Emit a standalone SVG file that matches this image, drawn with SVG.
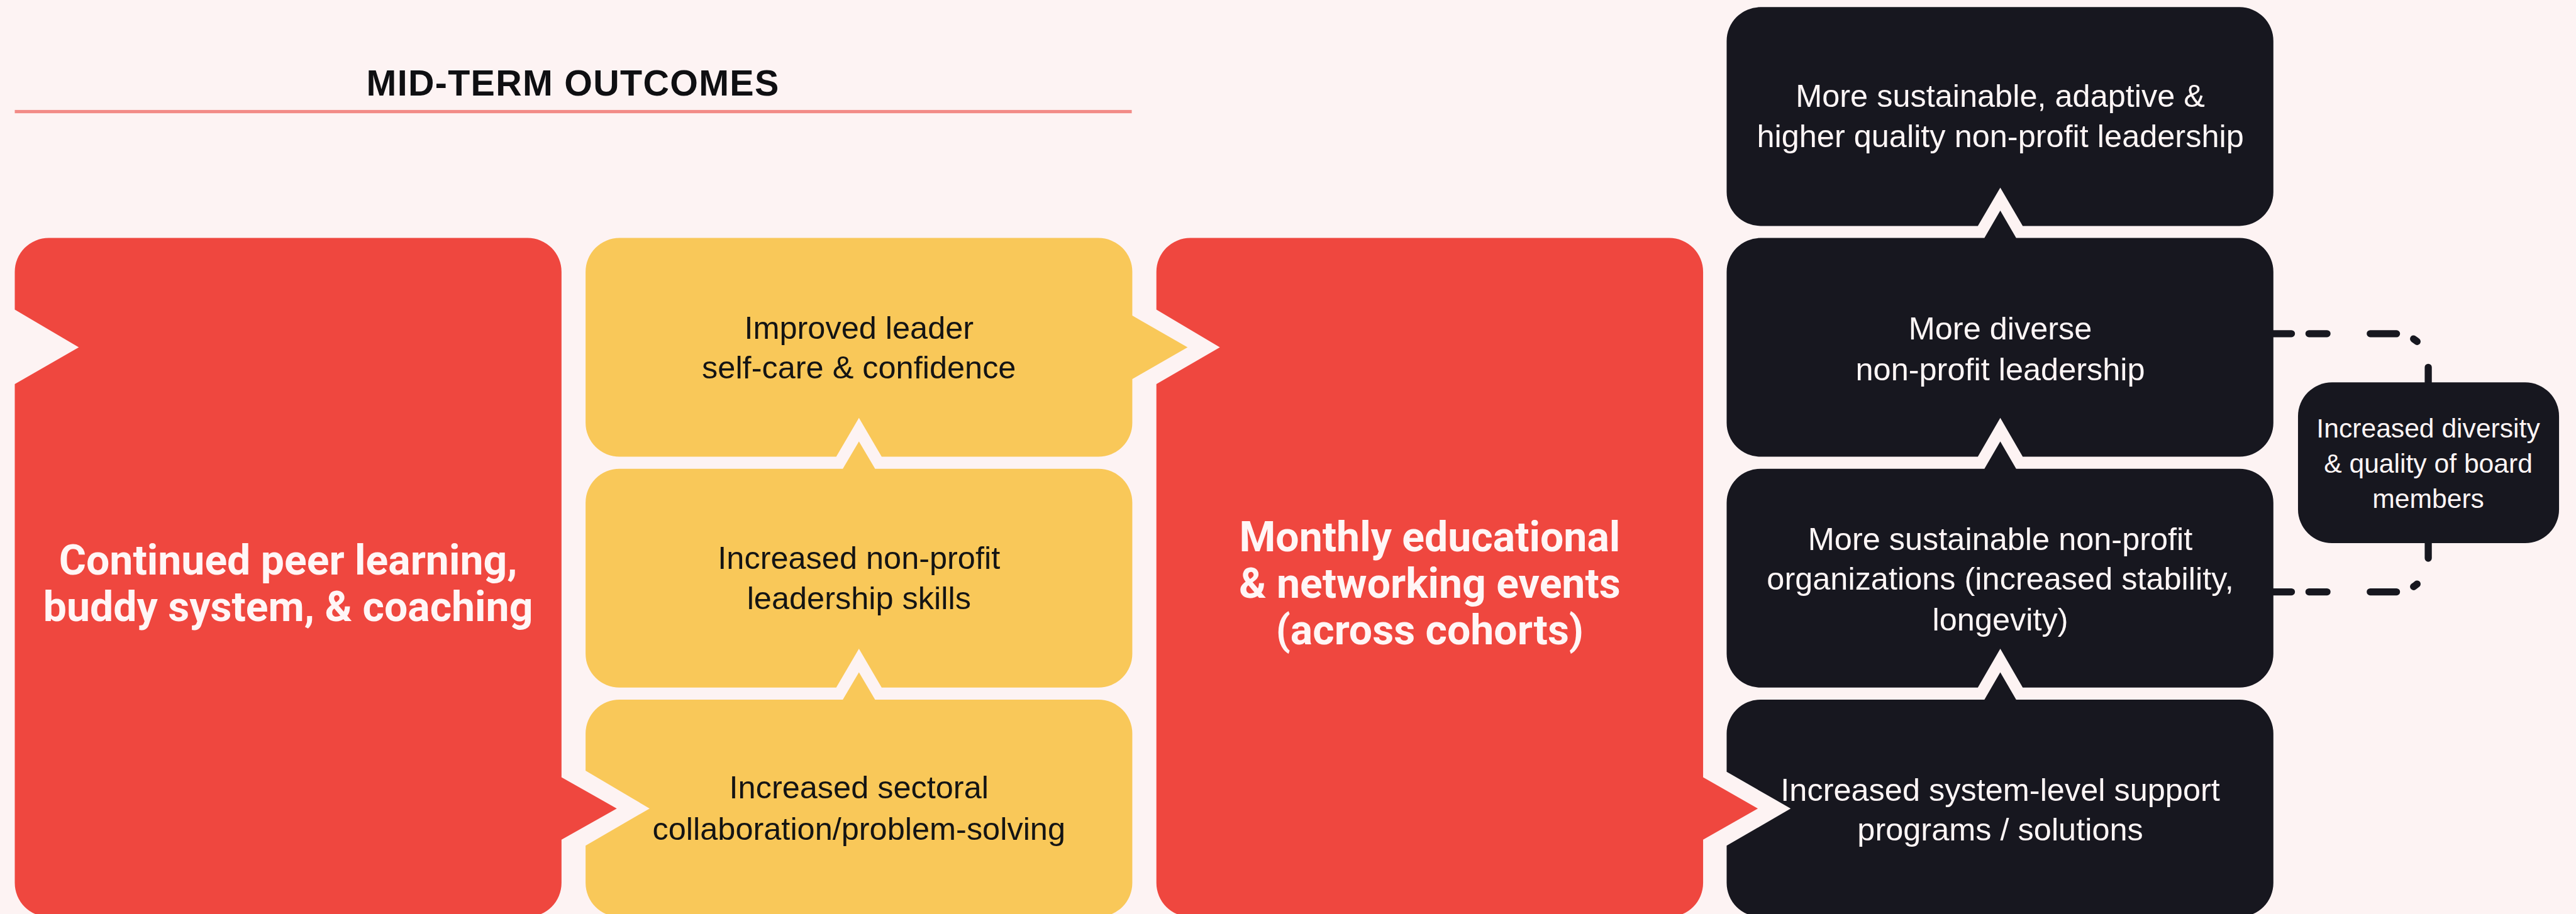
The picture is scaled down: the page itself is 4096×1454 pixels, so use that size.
<svg xmlns="http://www.w3.org/2000/svg" width="4096" height="1454" viewBox="0 0 4096 1454">
  <style>
    .bg { fill: #FDF3F3; }
    .red { fill: #EF473F; }
    .yel { fill: #F9C859; }
    .blk { fill: #17171F; }
    .rule { fill: #F28B87; }
    .title { font-family: "Liberation Sans", Arial, sans-serif; font-weight: 700; font-size: 66px; letter-spacing: 1.5px; fill: #0F0F12; text-anchor: middle; }
    .big { font-family: Roboto, "Noto Sans", sans-serif; font-weight: 700; font-size: 76px; fill: #FFF6F6; text-anchor: middle; }
    .dk { font-family: "Liberation Sans", Arial, sans-serif; font-size: 58px; fill: #141414; text-anchor: middle; }
    .lt { font-family: "Liberation Sans", Arial, sans-serif; font-size: 58px; fill: #FFF6F6; text-anchor: middle; }
    .sm { font-family: "Liberation Sans", Arial, sans-serif; font-size: 49px; fill: #FFF6F6; text-anchor: middle; }
    .dash { fill: none; stroke: #17171F; stroke-width: 13; stroke-linecap: round; stroke-dasharray: 33 32 33 79 48 33 8 53 60; }
  </style>
  <rect class="bg" x="0" y="0" width="4096" height="1454"/>
  <g transform="scale(0.8702)">
    <g id="header">
      <text class="title" x="1047" y="175">MID-TERM OUTCOMES</text>
      <rect class="rule" x="27" y="201" width="2041" height="6"/>
    </g>

    <g id="connectors">
      <path class="dash" d="M4154,610 H4378 A59,59 0 0 1 4437,669 V699"/>
      <path class="dash" d="M4154,1082 H4378 A59,59 0 0 0 4437,1023 V993"/>
    </g>

    <g id="peer-learning">
      <path class="red" d="M89,435 H964 A62,62 0 0 1 1026,497 V1421 L1127,1478 L1026,1535 V1614 A62,62 0 0 1 964,1676 H89 A62,62 0 0 1 27,1614 V702 L144,635 L27,566 V497 A62,62 0 0 1 89,435 Z"/>
      <text class="big" x="526.5" y="1050">Continued peer learning,</text>
      <text class="big" x="526.5" y="1135">buddy system, &amp; coaching</text>
    </g>

    <g id="self-care">
      <path class="yel" d="M1132,435 H2007 A62,62 0 0 1 2069,497 V577 L2170,635 L2069,693 V773 A62,62 0 0 1 2007,835 H1611 L1569.5,764 L1528,835 H1132 A62,62 0 0 1 1070,773 V497 A62,62 0 0 1 1132,435 Z"/>
      <text class="dk" x="1569.5" y="619">Improved leader</text>
      <text class="dk" x="1569.5" y="692">self-care &amp; confidence</text>
    </g>

    <g id="leadership-skills">
      <path class="yel" d="M1132,857 H1540 L1569.5,807 L1599,857 H2007 A62,62 0 0 1 2069,919 V1195 A62,62 0 0 1 2007,1257 H1611 L1569.5,1186 L1528,1257 H1132 A62,62 0 0 1 1070,1195 V919 A62,62 0 0 1 1132,857 Z"/>
      <text class="dk" x="1569.5" y="1040">Increased non-profit</text>
      <text class="dk" x="1569.5" y="1113">leadership skills</text>
    </g>

    <g id="sectoral-collaboration">
      <path class="yel" d="M1132,1279 H1540 L1569.5,1229 L1599,1279 H2007 A62,62 0 0 1 2069,1341 V1614 A62,62 0 0 1 2007,1676 H1132 A62,62 0 0 1 1070,1614 V1546 L1187,1478 L1070,1409 V1341 A62,62 0 0 1 1132,1279 Z"/>
      <text class="dk" x="1569.5" y="1460">Increased sectoral</text>
      <text class="dk" x="1569.5" y="1535">collaboration/problem-solving</text>
    </g>

    <g id="monthly-events">
      <path class="red" d="M2175,435 H3050 A62,62 0 0 1 3112,497 V1421 L3212,1478 L3112,1535 V1614 A62,62 0 0 1 3050,1676 H2175 A62,62 0 0 1 2113,1614 V702 L2229,635 L2113,566 V497 A62,62 0 0 1 2175,435 Z"/>
      <text class="big" x="2612.5" y="1008">Monthly educational</text>
      <text class="big" x="2612.5" y="1093">&amp; networking events</text>
      <text class="big" x="2612.5" y="1178">(across cohorts)</text>
    </g>

    <g id="leadership-quality">
      <path class="blk" d="M3217,13 H4092 A62,62 0 0 1 4154,75 V351 A62,62 0 0 1 4092,413 H3696 L3655,343 L3614,413 H3217 A62,62 0 0 1 3155,351 V75 A62,62 0 0 1 3217,13 Z"/>
      <text class="lt" x="3655" y="195">More sustainable, adaptive &amp;</text>
      <text class="lt" x="3655" y="269">higher quality non-profit leadership</text>
    </g>

    <g id="diverse-leadership">
      <path class="blk" d="M3217,435 H3626 L3655,385 L3684,435 H4092 A62,62 0 0 1 4154,497 V773 A62,62 0 0 1 4092,835 H3696 L3655,764 L3614,835 H3217 A62,62 0 0 1 3155,773 V497 A62,62 0 0 1 3217,435 Z"/>
      <text class="lt" x="3655" y="621">More diverse</text>
      <text class="lt" x="3655" y="695">non-profit leadership</text>
    </g>

    <g id="sustainable-orgs">
      <path class="blk" d="M3217,857 H3626 L3655,807 L3684,857 H4092 A62,62 0 0 1 4154,919 V1195 A62,62 0 0 1 4092,1257 H3696 L3655,1186 L3614,1257 H3217 A62,62 0 0 1 3155,1195 V919 A62,62 0 0 1 3217,857 Z"/>
      <text class="lt" x="3655" y="1006">More sustainable non-profit</text>
      <text class="lt" x="3655" y="1078">organizations (increased stability,</text>
      <text class="lt" x="3655" y="1153">longevity)</text>
    </g>

    <g id="system-support">
      <path class="blk" d="M3217,1279 H3626 L3655,1229 L3684,1279 H4092 A62,62 0 0 1 4154,1341 V1614 A62,62 0 0 1 4092,1676 H3217 A62,62 0 0 1 3155,1614 V1546 L3272,1478 L3155,1411 V1341 A62,62 0 0 1 3217,1279 Z"/>
      <text class="lt" x="3655" y="1464">Increased system-level support</text>
      <text class="lt" x="3655" y="1536">programs / solutions</text>
    </g>

    <g id="board-members">
      <rect class="blk" x="4199" y="699" width="477" height="294" rx="62" ry="62"/>
      <text class="sm" x="4437" y="800">Increased diversity</text>
      <text class="sm" x="4437" y="864">&amp; quality of board</text>
      <text class="sm" x="4437" y="928">members</text>
    </g>
  </g>
</svg>
